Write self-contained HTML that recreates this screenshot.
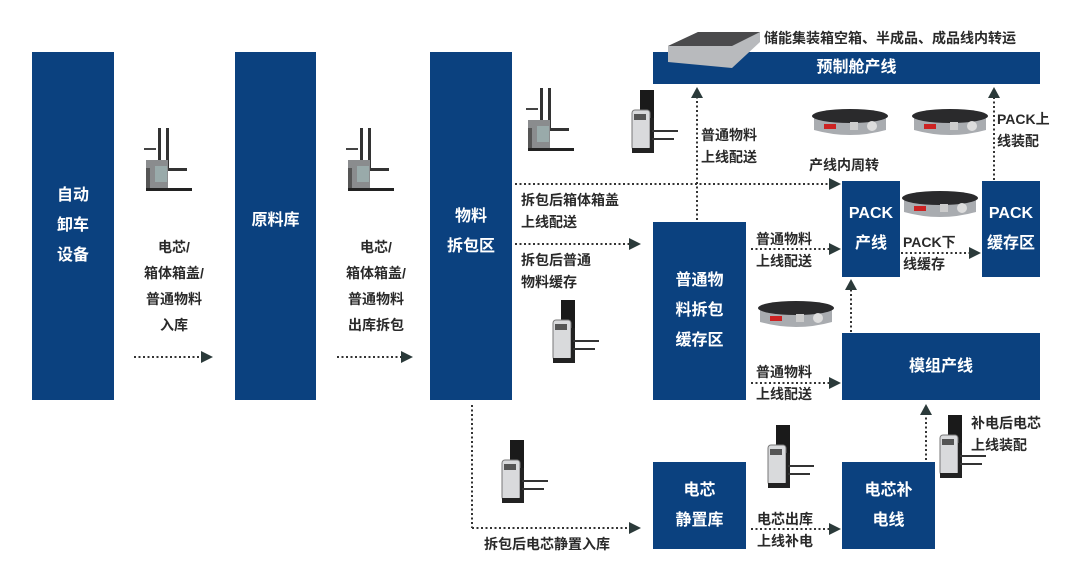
<!DOCTYPE html>
<html><head><meta charset="utf-8"><style>
*{margin:0;padding:0;box-sizing:border-box}
body{width:1080px;height:583px;background:#fff;position:relative;overflow:hidden;font-family:"Liberation Sans","Noto Sans CJK SC",sans-serif;font-weight:bold}
.b{position:absolute;background:#0b417f;color:#fff;font-size:16px;display:flex;align-items:center;justify-content:center;text-align:center;line-height:30px}
.t{position:absolute;color:#2a2a2a;font-size:14px;line-height:22px;white-space:nowrap}
svg{position:absolute;left:0;top:0}
</style></head><body>
<svg width="1080" height="583">
<defs>
<g id="fl"><rect x="0" y="0" width="3" height="40" fill="#333"/><rect x="8" y="0" width="3" height="40" fill="#333"/><rect x="-14" y="20" width="12" height="2" fill="#444"/><rect x="3" y="40" width="26" height="3" fill="#333"/><rect x="-12" y="32" width="22" height="30" fill="#8a8c8e"/><rect x="-3" y="38" width="12" height="16" fill="#9aa"/><rect x="-12" y="60" width="46" height="3" fill="#222"/><rect x="-12" y="40" width="4" height="20" fill="#555"/></g>
<g id="st"><rect x="8" y="0" width="14" height="32" fill="#1a1a1a"/><rect x="0" y="20" width="18" height="40" rx="3" fill="#d9dadc" stroke="#777"/><rect x="2" y="24" width="12" height="6" fill="#555"/><rect x="18" y="28" width="4" height="30" fill="#222"/><rect x="20" y="40" width="26" height="2" fill="#333"/><rect x="20" y="48" width="22" height="2" fill="#333"/><rect x="0" y="58" width="22" height="5" fill="#222"/></g>
<g id="amr"><path d="M4 8 Q40 -2 76 8 L76 22 Q40 32 4 22 Z" fill="#a9acb0"/><ellipse cx="40" cy="8" rx="38" ry="7" fill="#2a2a2c"/><rect x="14" y="16" width="12" height="5" fill="#c22"/><rect x="40" y="14" width="8" height="8" fill="#ccc"/><circle cx="62" cy="18" r="5" fill="#ddd"/></g>
</defs>
<g stroke="#333" stroke-width="2" stroke-dasharray="2 2.5" fill="none">
<line x1="134" y1="357" x2="202" y2="357"/>
<line x1="337" y1="357" x2="402" y2="357"/>
<line x1="515" y1="184" x2="829" y2="184"/>
<line x1="515" y1="244" x2="629" y2="244"/>
<line x1="697" y1="220" x2="697" y2="98"/>
<line x1="751" y1="249" x2="829" y2="249"/>
<line x1="751" y1="383" x2="829" y2="383"/>
<line x1="901" y1="253" x2="969" y2="253"/>
<line x1="851" y1="332" x2="851" y2="290"/>
<line x1="994" y1="180" x2="994" y2="98"/>
<line x1="472" y1="405" x2="472" y2="528"/>
<line x1="472" y1="528" x2="629" y2="528"/>
<line x1="751" y1="529" x2="829" y2="529"/>
<line x1="926" y1="460" x2="926" y2="416"/>
</g>
<g fill="#2b3a3a">
<path d="M201 351 L213 357 L201 363Z"/><path d="M401 351 L413 357 L401 363Z"/>
<path d="M829 178 L841 184 L829 190Z"/><path d="M629 238 L641 244 L629 250Z"/>
<path d="M691 98 L697 87 L703 98Z"/><path d="M829 243 L841 249 L829 255Z"/>
<path d="M829 377 L841 383 L829 389Z"/><path d="M969 247 L981 253 L969 259Z"/>
<path d="M845 290 L851 279 L857 290Z"/><path d="M988 98 L994 87 L1000 98Z"/>
<path d="M629 522 L641 528 L629 534Z"/><path d="M829 523 L841 529 L829 535Z"/>
<path d="M920 415 L926 404 L932 415Z"/>
</g>
</svg>
<div class="b" style="left:32px;top:52px;width:82px;height:348px;flex-direction:column">自动<br>卸车<br>设备</div>
<div class="b" style="left:235px;top:52px;width:81px;height:348px;padding-bottom:10px">原料库</div>
<div class="b" style="left:430px;top:52px;width:82px;height:348px;padding-bottom:10px;flex-direction:column;justify-content:flex-start;padding-top:150px">物料<br>拆包区</div>
<div class="b" style="left:653px;top:52px;width:387px;height:32px;padding-left:20px">预制舱产线</div>
<div class="b" style="left:653px;top:222px;width:93px;height:178px">普通物<br>料拆包<br>缓存区</div>
<div class="b" style="left:842px;top:181px;width:58px;height:96px">PACK<br>产线</div>
<div class="b" style="left:982px;top:181px;width:58px;height:96px">PACK<br>缓存区</div>
<div class="b" style="left:842px;top:333px;width:198px;height:67px">模组产线</div>
<div class="b" style="left:653px;top:462px;width:93px;height:87px">电芯<br>静置库</div>
<div class="b" style="left:842px;top:462px;width:93px;height:87px">电芯补<br>电线</div>
<svg width="1080" height="583">
<use href="#fl" x="158" y="128"/><use href="#fl" x="360" y="128"/><use href="#fl" x="540" y="88"/>
<use href="#st" x="632" y="90"/><use href="#st" x="553" y="300"/><use href="#st" x="502" y="440"/>
<use href="#st" x="768" y="425"/><use href="#st" x="940" y="415"/>
<use href="#amr" x="810" y="108"/><use href="#amr" x="910" y="108"/><use href="#amr" x="900" y="190"/><use href="#amr" x="756" y="300"/>
<path d="M668 46 L698 32 L760 32 L760 42 L732 68 L668 62Z" fill="#b8babd"/><path d="M668 46 L698 32 L760 32 L732 46Z" fill="#4a4a4c"/>
</svg>
<div class="t" style="left:134px;top:234px;width:80px;text-align:center;line-height:26px">电芯/<br>箱体箱盖/<br>普通物料<br>入库</div>
<div class="t" style="left:336px;top:234px;width:80px;text-align:center;line-height:26px">电芯/<br>箱体箱盖/<br>普通物料<br>出库拆包</div>
<div class="t" style="left:764px;top:27px">储能集装箱空箱、半成品、成品线内转运</div>
<div class="t" style="left:701px;top:124px">普通物料<br>上线配送</div>
<div class="t" style="left:809px;top:154px">产线内周转</div>
<div class="t" style="left:997px;top:108px">PACK上<br>线装配</div>
<div class="t" style="left:521px;top:189px">拆包后箱体箱盖<br>上线配送</div>
<div class="t" style="left:521px;top:249px">拆包后普通<br>物料缓存</div>
<div class="t" style="left:756px;top:228px">普通物料<br>上线配送</div>
<div class="t" style="left:903px;top:231px">PACK下<br>线缓存</div>
<div class="t" style="left:756px;top:361px">普通物料<br>上线配送</div>
<div class="t" style="left:971px;top:412px">补电后电芯<br>上线装配</div>
<div class="t" style="left:484px;top:533px">拆包后电芯静置入库</div>
<div class="t" style="left:757px;top:508px">电芯出库<br>上线补电</div>
</body></html>
